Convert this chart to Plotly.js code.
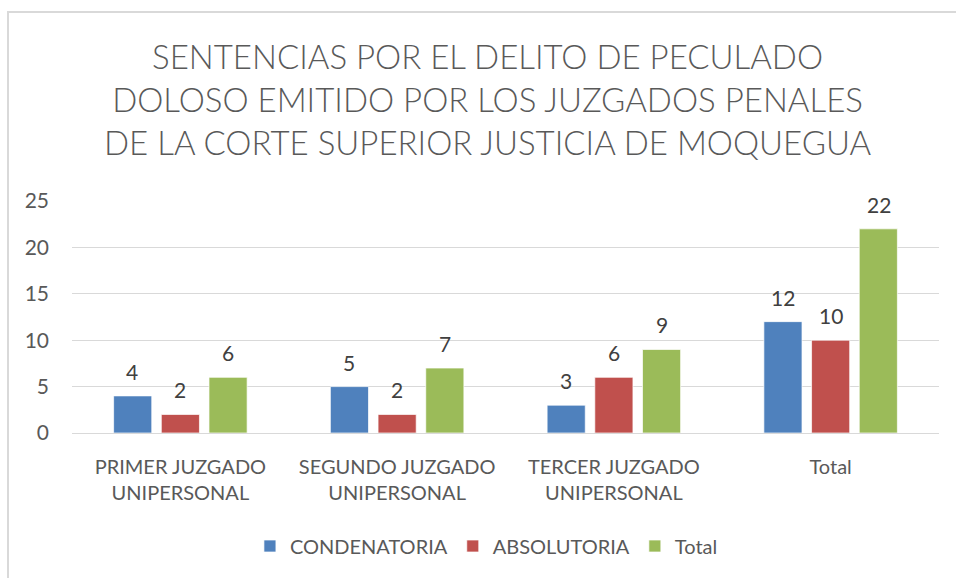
<!DOCTYPE html>
<html><head><meta charset="utf-8">
<script src="https://cdn.plot.ly/plotly-3.0.1.min.js"></script>
<style>
body{margin:0;padding:0;background:#fff;}
#wrap{position:relative;width:956px;height:578px;}
#chart{position:absolute;left:0;top:0;width:956px;height:578px;}
#frame{position:absolute;left:7px;top:11px;width:960px;height:580px;border-left:2px solid #d9d9d9;border-top:2px solid #d9d9d9;pointer-events:none;}
</style></head>
<body>
<div id="wrap"><div id="chart"></div><div id="frame"></div></div>
<script>
const categories = ["PRIMER JUZGADO<br>UNIPERSONAL", "SEGUNDO JUZGADO<br>UNIPERSONAL", "TERCER JUZGADO<br>UNIPERSONAL", "Total"];
const seriesNames = ["CONDENATORIA", "ABSOLUTORIA", "Total"];
const condenatoria = [4, 5, 3, 12];
const absolutoria = [2, 2, 6, 10];
const total = [6, 7, 9, 22];
const yTicks = [0, 5, 10, 15, 20, 25];

const colors = ["#4f81bd", "#c0504d", "#9bbb59"];
const seriesValues = [condenatoria, absolutoria, total];
const font = "Lato, 'Open Sans', sans-serif";
const grey = "#595959";

const traces = seriesValues.map((vals, i) => ({
  type: "bar",
  name: seriesNames[i],
  x: categories,
  y: vals,
  marker: {color: colors[i], line: {color: "rgba(255,255,255,0.7)", width: 1}},
  hoverinfo: "skip"
}));

// data labels above the bars
const slot = 48; // px offset between bars in a group
const annotations = [];
seriesValues.forEach((vals, i) => {
  vals.forEach((v, j) => {
    annotations.push({
      x: categories[j], y: v, xref: "x", yref: "y",
      text: String(v), showarrow: false,
      xshift: (i - 1) * slot, yshift: 10,
      yanchor: "bottom", xanchor: "center",
      font: {family: font, size: 21, color: "#404040"}
    });
  });
});

const layout = {
  width: 956, height: 578,
  margin: {l: 72, r: 17, t: 201, b: 145},
  paper_bgcolor: "#fff", plot_bgcolor: "#fff",
  title: {
    text: "SENTENCIAS POR EL DELITO DE PECULADO<br>DOLOSO EMITIDO POR LOS JUZGADOS PENALES<br>DE LA CORTE SUPERIOR JUSTICIA DE MOQUEGUA",
    font: {family: font, size: 33, color: grey, weight: 300},
    x: 0.51, xref: "container", xanchor: "center",
    y: 1 - 69/578, yref: "container", yanchor: "middle"
  },
  barmode: "group",
  bargap: 0.34,
  bargroupgap: 0.2,
  xaxis: {
    type: "category",
    showgrid: false, showline: true, linecolor: "#d9d9d9", linewidth: 1,
    ticks: "", ticklabelstandoff: 16,
    tickfont: {family: font, size: 20, color: grey},
    fixedrange: true
  },
  yaxis: {
    range: [0, 25], tickvals: yTicks, ticktext: yTicks.map(String),
    showgrid: true, gridcolor: "#d9d9d9", gridwidth: 1,
    zeroline: true, zerolinecolor: "#d9d9d9",
    showline: false, ticks: "", ticklabelstandoff: 22,
    tickfont: {family: font, size: 21, color: grey},
    fixedrange: true
  },
  showlegend: true,
  legend: {
    orientation: "h", x: 0.478, xanchor: "center", y: 1 - 546/578, yref: "container", yanchor: "middle",
    font: {family: font, size: 20, color: grey},
    itemclick: false, itemdoubleclick: false
  },
  annotations: annotations
};

Plotly.newPlot("chart", traces, layout, {displayModeBar: false, staticPlot: true});
</script>
</body></html>
